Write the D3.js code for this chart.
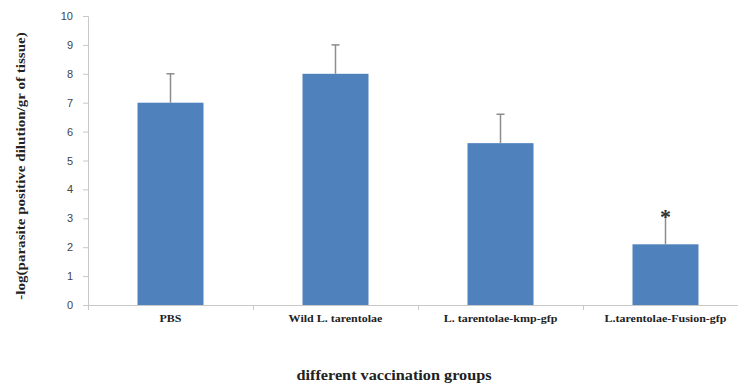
<!DOCTYPE html>
<html>
<head>
<meta charset="utf-8">
<script src="https://cdn.jsdelivr.net/npm/d3@7"></script>
<style>
  html, body { margin: 0; padding: 0; background: #fff; overflow: hidden; }
  svg { display: block; }
</style>
</head>
<body>
<svg id="chart" width="738" height="383"></svg>
<script>
// ---- data ----
const categories = ["PBS", "Wild L. tarentolae", "L. tarentolae-kmp-gfp", "L.tarentolae-Fusion-gfp"];
const values = [7.0, 8.0, 5.6, 2.1];
const errors = [1.0, 1.0, 1.0, 1.0];
const marks = ["", "", "", "*"];
const yTicks = [0, 1, 2, 3, 4, 5, 6, 7, 8, 9, 10];

// ---- layout ----
const plotLeft = 88, plotTop = 16, plotBottom = 305;
const band = 165;
const serif = "Liberation Serif, Times New Roman, serif";

const svg = d3.select("#chart");

const x = d3.scaleBand()
  .domain(categories)
  .range([plotLeft, plotLeft + band * categories.length])
  .paddingInner(0.6)
  .paddingOuter(0.3);

const y = d3.scaleLinear().domain([0, 10]).range([plotBottom, plotTop]);

// y axis
const yAxis = svg.append("g")
  .attr("transform", `translate(${plotLeft},0)`)
  .call(d3.axisLeft(y).tickValues(yTicks).tickSize(5).tickPadding(10));
yAxis.select(".domain").attr("stroke", "#c8c8c8");
yAxis.selectAll(".tick line").attr("stroke", "#c8c8c8");
yAxis.selectAll(".tick text")
  .attr("font-family", "Liberation Sans, Arial, sans-serif")
  .attr("font-size", 11)
  .attr("fill", "#444");

// x axis (ticks at category boundaries)
const xEnd = plotLeft + band * categories.length;
svg.append("line")
  .attr("x1", plotLeft).attr("x2", xEnd)
  .attr("y1", plotBottom + 0.5).attr("y2", plotBottom + 0.5)
  .attr("stroke", "#c8c8c8");
svg.selectAll(".xtick")
  .data(d3.range(categories.length + 1))
  .enter().append("line")
  .attr("x1", (i) => plotLeft + i * band + 0.5)
  .attr("x2", (i) => plotLeft + i * band + 0.5)
  .attr("y1", plotBottom).attr("y2", plotBottom + 5)
  .attr("stroke", "#c8c8c8");

// category labels — the source text is slightly stretched horizontally
svg.selectAll(".xlabel")
  .data(categories)
  .enter().append("text")
  .attr("transform", (d) => `translate(${x(d) + x.bandwidth() / 2},322) scale(1.2,1)`)
  .attr("text-anchor", "middle")
  .attr("font-family", serif)
  .attr("font-weight", "bold")
  .attr("font-size", 10)
  .attr("fill", "#222")
  .text((d) => d);

// bars
svg.selectAll(".bar")
  .data(categories)
  .enter().append("rect")
  .attr("x", (d) => x(d))
  .attr("width", x.bandwidth())
  .attr("y", (d, i) => y(values[i]))
  .attr("height", (d, i) => y(0) - y(values[i]))
  .attr("fill", "#4f81bd");

// error bars
const errG = svg.selectAll(".err")
  .data(categories)
  .enter().append("g")
  .attr("stroke", "#8c8c8c")
  .attr("stroke-width", 1.5);
errG.append("line")
  .attr("x1", (d) => x(d) + x.bandwidth() / 2)
  .attr("x2", (d) => x(d) + x.bandwidth() / 2)
  .attr("y1", (d, i) => y(values[i]))
  .attr("y2", (d, i) => y(values[i] + errors[i]));
errG.append("line")
  .attr("x1", (d) => x(d) + x.bandwidth() / 2 - 4)
  .attr("x2", (d) => x(d) + x.bandwidth() / 2 + 4)
  .attr("y1", (d, i) => y(values[i] + errors[i]))
  .attr("y2", (d, i) => y(values[i] + errors[i]));

// significance marks
svg.selectAll(".mark")
  .data(categories)
  .enter().append("text")
  .attr("x", (d) => x(d) + x.bandwidth() / 2)
  .attr("y", (d, i) => y(values[i] + errors[i]) + 9)
  .attr("text-anchor", "middle")
  .attr("font-family", serif)
  .attr("font-weight", "bold")
  .attr("font-size", 22)
  .attr("fill", "#333")
  .text((d, i) => marks[i]);

// axis titles
svg.append("text")
  .attr("transform", "translate(25,166) rotate(-90) scale(1.16,1)")
  .attr("text-anchor", "middle")
  .attr("font-family", serif)
  .attr("font-weight", "bold")
  .attr("font-size", 13)
  .attr("fill", "#222")
  .text("-log(parasite positive dilution/gr of tissue)");

svg.append("text")
  .attr("transform", "translate(394,380) scale(1.16,1)")
  .attr("text-anchor", "middle")
  .attr("font-family", serif)
  .attr("font-weight", "bold")
  .attr("font-size", 14)
  .attr("fill", "#222")
  .text("different vaccination groups");
</script>
</body>
</html>
